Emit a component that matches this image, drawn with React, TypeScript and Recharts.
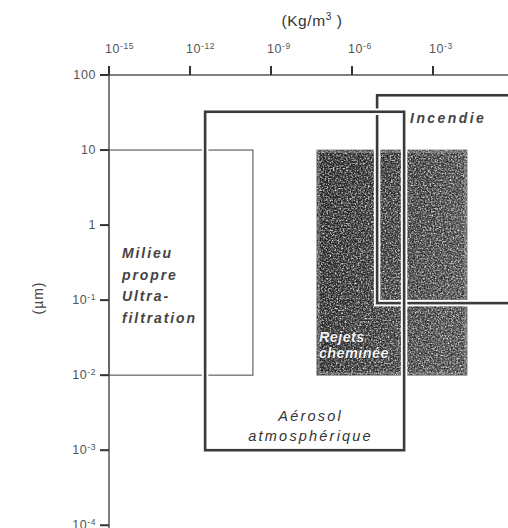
import React from 'react';
import { ComposedChart, XAxis, YAxis, ReferenceArea } from 'recharts';

// ---- data ----
const xTicks = [1e-15, 1e-12, 1e-9, 1e-6, 1e-3, 1];
const yTicks = [100, 10, 1, 0.1, 0.01, 0.001, 0.0001];
const xDomain = [1e-15, 10];
const yDomain = [Math.pow(10, -4.05), 100];

const zoneNames = ['Rejets cheminée', 'Milieu propre Ultra-filtration', 'Incendie', 'Aérosol atmosphérique'];
const zoneLines = [['Rejets', 'cheminée'], ['Milieu', 'propre', 'Ultra-', 'filtration'], ['Incendie'], ['Aérosol', 'atmosphérique']];
const zoneX1 = [Math.pow(10, -7.3), 1e-15, Math.pow(10, -5.07), Math.pow(10, -11.44)];
const zoneX2 = [Math.pow(10, -1.74), Math.pow(10, -9.67), 10, Math.pow(10, -4.07)];
const zoneY1 = [0.01, 0.01, Math.pow(10, -1.04), 0.001];
const zoneY2 = [10, 10, Math.pow(10, 1.73), Math.pow(10, 1.51)];

const chartData = zoneNames.flatMap((n, i) => [
  { name: n, x: zoneX1[i], y: zoneY1[i] },
  { name: n, x: zoneX2[i], y: zoneY2[i] },
]);

const FONT = '"Liberation Sans", Arial, Helvetica, sans-serif';
const INK = '#3a3a3a';

const expLabel = (v: number) => Math.round(Math.log10(v));

const XTick = (props: any) => {
  const { x, y, payload } = props;
  const e = expLabel(payload.value);
  return (
    <text x={x - 4} y={y - 11} textAnchor="start" fontFamily={FONT} fontSize={12.5} fill="#555" letterSpacing={0.6}>
      {e === 0 ? '1' : (
        <>
          10<tspan dy={-4} fontSize={8.5}>{String(e)}</tspan>
        </>
      )}
    </text>
  );
};

const YTick = (props: any) => {
  const { x, y, payload } = props;
  const e = expLabel(payload.value);
  const txt = e >= 0 ? String(Math.pow(10, e)) : null;
  return (
    <text x={x - 2} y={y + 4} textAnchor="end" fontFamily={FONT} fontSize={12.5} fill="#555" letterSpacing={0.6}>
      {txt !== null ? txt : (
        <>
          10<tspan dy={-4} fontSize={8.5}>{String(e)}</tspan>
        </>
      )}
    </text>
  );
};

const grainShape = (props: any) => {
  const { x, y, width, height } = props;
  return (
    <g>
      <rect x={x} y={y} width={width} height={height} fill="url(#rejetsGrad)" stroke="#888" strokeWidth={1} />
      <rect x={x} y={y} width={width} height={height} fill="#fff" filter="url(#grain)" />
      <rect x={x} y={y} width={width} height={height} fill="#000" filter="url(#grainDark)" />
      <rect x={x + 2} y={y + 2} width={width - 4} height={height - 4} fill="none" stroke="#bbb" strokeWidth={1} opacity={0.6} />
    </g>
  );
};

const thinShape = (props: any) => {
  const { x, y, width, height } = props;
  return <rect x={x} y={y} width={width} height={height} fill="none" stroke="#555" strokeWidth={1.1} />;
};

const thickShape = (props: any) => {
  const { x, y, width, height } = props;
  return (
    <g>
      <rect x={x} y={y} width={width} height={height} fill="none" stroke="#fff" strokeWidth={6.5} />
      <rect x={x} y={y} width={width} height={height} fill="none" stroke={INK} strokeWidth={2.6} />
    </g>
  );
};

const textStyle = {
  fontFamily: FONT,
  fontSize: 14,
  fontStyle: 'italic' as const,
  fontWeight: 'bold' as const,
  fill: '#444',
  letterSpacing: 1.9,
};

const makeLabel = (idx: number) => (props: any) => {
  const vb = props.viewBox || {};
  const { x, y, width, height } = vb;
  const lines = zoneLines[idx];
  if (idx === 0) {
    return (
      <g>
        {lines.map((l, i) => (
          <text key={i} x={x + 2} y={y + 192 + i * 16} {...textStyle} fontSize={14.5} letterSpacing={0.4} fill="#f4f4f4" stroke="#222" strokeWidth={0.8} paintOrder="stroke">{l}</text>
        ))}
      </g>
    );
  }
  if (idx === 1) {
    return (
      <g>
        {lines.map((l, i) => (
          <text key={i} x={x + 13} y={y + 108 + i * 21.5} {...textStyle}>{l}</text>
        ))}
      </g>
    );
  }
  if (idx === 2) {
    return <text x={x + 33} y={y + 28} {...textStyle} letterSpacing={2.4}>{lines[0]}</text>;
  }
  return (
    <g>
      {lines.map((l, i) => (
        <text key={i} x={x + width / 2 + 6} y={y + height - 29 + i * 20} textAnchor="middle" {...textStyle} fontSize={14.5} fontWeight="normal" letterSpacing={2.2} fill="#333">{l}</text>
      ))}
    </g>
  );
};

const shapes = [grainShape, thinShape, thickShape, thickShape];
const drawOrder = [0, 1, 2, 3];

const YLabel = (props: any) => {
  const vb = props.viewBox || { x: 0, y: 0, width: 0, height: 0 };
  const cx = vb.x + 43;
  const cy = 298;
  return (
    <text x={cx} y={cy} textAnchor="middle" transform={`rotate(-90 ${cx} ${cy})`} fontFamily={FONT} fontSize={14} fill="#444" letterSpacing={1}>(µm)</text>
  );
};

const XLabel = (props: any) => {
  const vb = props.viewBox || { x: 0, y: 0, width: 0, height: 0 };
  return (
    <text x={312} y={vb.y + 26} textAnchor="middle" fontFamily={FONT} fontSize={15.5} fill="#333" letterSpacing={0.6}>
      (Kg/m<tspan dy={-6} fontSize={10}>3</tspan><tspan dy={6}> )</tspan>
    </text>
  );
};

export default function App() {
  return (
    <div style={{ position: 'absolute', left: 0, top: 0, width: 508, height: 528, overflow: 'hidden', background: '#fff' }}>
      <ComposedChart width={560} height={530} data={chartData} margin={{ top: 0, right: 19, bottom: 1, left: 0 }}>
        <defs>
          <linearGradient id="rejetsGrad" x1="0" y1="0" x2="1" y2="0.25">
            <stop offset="0" stopColor="#2e2e2e" />
            <stop offset="0.4" stopColor="#3c3c3c" />
            <stop offset="1" stopColor="#5a5a5a" />
          </linearGradient>
          <filter id="grain" x="0" y="0" width="100%" height="100%">
            <feTurbulence type="fractalNoise" baseFrequency="0.6" numOctaves={2} seed={7} result="n" />
            <feColorMatrix in="n" type="matrix" values="0 0 0 0 1  0 0 0 0 1  0 0 0 0 1  2.2 0 0 0 -0.9" result="w" />
            <feComposite in="w" in2="SourceAlpha" operator="in" />
          </filter>
          <filter id="grainDark" x="0" y="0" width="100%" height="100%">
            <feTurbulence type="fractalNoise" baseFrequency="0.7" numOctaves={1} seed={3} result="n" />
            <feColorMatrix in="n" type="matrix" values="0 0 0 0 0  0 0 0 0 0  0 0 0 0 0  0 1.8 0 0 -0.75" result="w" />
            <feComposite in="w" in2="SourceAlpha" operator="in" />
          </filter>
        </defs>
        <XAxis
          xAxisId="x"
          dataKey="x"
          type="number"
          orientation="top"
          scale="log"
          domain={xDomain}
          allowDataOverflow
          ticks={xTicks}
          interval={0}
          height={75}
          tickSize={9}
          tick={<XTick />}
          axisLine={{ stroke: '#555', strokeWidth: 1.5 }}
          tickLine={{ stroke: '#333', strokeWidth: 2 }}
          label={<XLabel />}
        />
        <YAxis
          yAxisId="y"
          dataKey="y"
          type="number"
          scale="log"
          domain={yDomain}
          allowDataOverflow
          ticks={yTicks}
          interval={0}
          width={109}
          tickSize={9}
          tick={<YTick />}
          axisLine={{ stroke: '#555', strokeWidth: 1.5 }}
          tickLine={{ stroke: '#333', strokeWidth: 2 }}
          label={<YLabel />}
        />
        {drawOrder.map((i) => (
          <ReferenceArea
            key={zoneNames[i]}
            xAxisId="x"
            yAxisId="y"
            x1={zoneX1[i]}
            x2={zoneX2[i]}
            y1={zoneY1[i]}
            y2={zoneY2[i]}
            ifOverflow="hidden"
            shape={shapes[i]}
            label={makeLabel(i)}
          />
        ))}
      </ComposedChart>
    </div>
  );
}
